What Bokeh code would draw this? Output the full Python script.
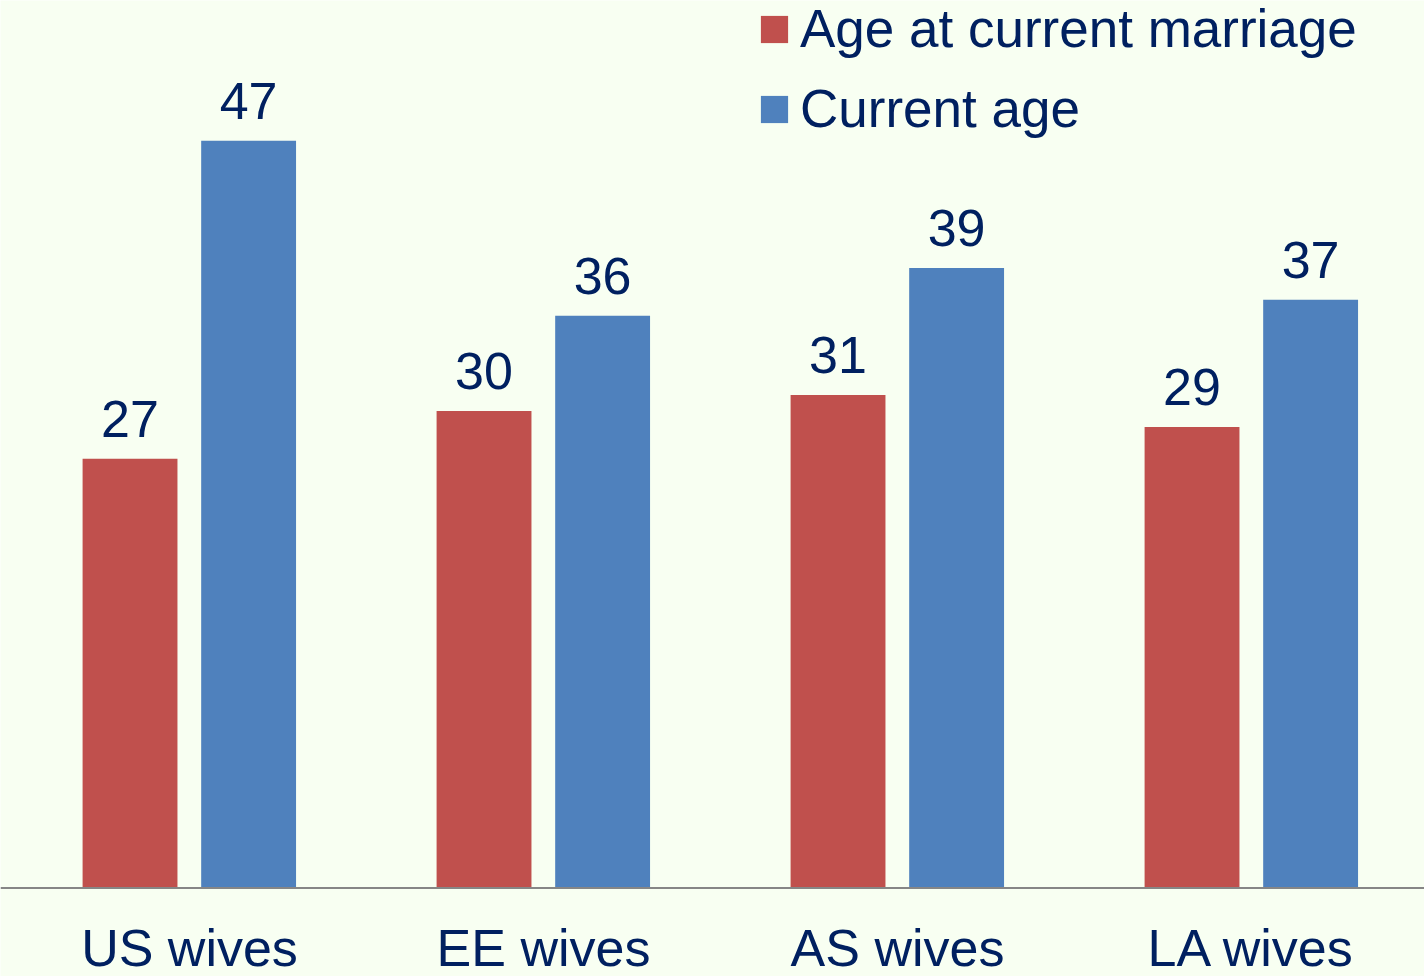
from bokeh.plotting import figure
from bokeh.models import ColumnDataSource, Range1d, Legend, LegendItem, Span
from bokeh.transform import dodge
from bokeh.core.properties import value
from bokeh.embed import file_html
from bokeh.resources import INLINE

categories = ["US wives", "EE wives", "AS wives", "LA wives"]
age_at_marriage = [27, 30, 31, 29]
current_age = [47, 36, 39, 37]

BG = "#F8FFF2"
NAVY = "#002060"
RED = "#C0504D"
BLUE = "#4F81BD"
FONT = "Liberation Sans"

xpos = [i + 0.5 for i in range(len(categories))]
src = ColumnDataSource(dict(x=xpos, cat=categories, zero=[0] * len(categories),
                            m=age_at_marriage, c=current_age,
                            ml=[str(v) for v in age_at_marriage],
                            cl=[str(v) for v in current_age]))

p = figure(width=1424, height=976, output_backend="svg", toolbar_location=None,
           x_range=Range1d(-0.0339, 3.9887), y_range=Range1d(-5.566, 55.82),
           background_fill_color=BG, border_fill_color=BG,
           min_border_left=0, min_border_right=0, min_border_top=0, min_border_bottom=0,
           outline_line_color=None, x_axis_type=None, y_axis_type=None)
p.xgrid.visible = False
p.ygrid.visible = False

r1 = p.vbar(x=dodge("x", -0.168, range=p.x_range), top="m", width=0.268, source=src,
            fill_color=RED, line_color=None)
r2 = p.vbar(x=dodge("x", 0.167, range=p.x_range), top="c", width=0.268, source=src,
            fill_color=BLUE, line_color=None)

# category axis line at zero
p.add_layout(Span(location=0, dimension="width", line_color="#868686", line_width=2))

# value labels
p.text(x=dodge("x", -0.168, range=p.x_range), y="m", text="ml", source=src,
       text_align="center", text_baseline="alphabetic", y_offset=-40,
       text_font=value(FONT), text_font_size="52px", text_color=NAVY)
p.text(x=dodge("x", 0.167, range=p.x_range), y="c", text="cl", source=src,
       text_align="center", text_baseline="alphabetic", y_offset=-40,
       text_font=value(FONT), text_font_size="52px", text_color=NAVY)

# category labels
p.text(x="x", y="zero", text="cat", source=src,
       text_align="center", text_baseline="alphabetic", y_offset=60,
       text_font=value(FONT), text_font_size="52px", text_color=NAVY)

legend = Legend(items=[LegendItem(label="Age at current marriage", renderers=[r1]),
                       LegendItem(label="Current age", renderers=[r2])],
                location=(757, 837), border_line_color=None, background_fill_alpha=0,
                padding=0, margin=0, spacing=19, glyph_width=34, glyph_height=34,
                label_standoff=9, label_text_font=FONT, label_text_font_size="53px",
                label_text_color=NAVY)
p.add_layout(legend)

open("out.html", "w").write(file_html(p, INLINE))
